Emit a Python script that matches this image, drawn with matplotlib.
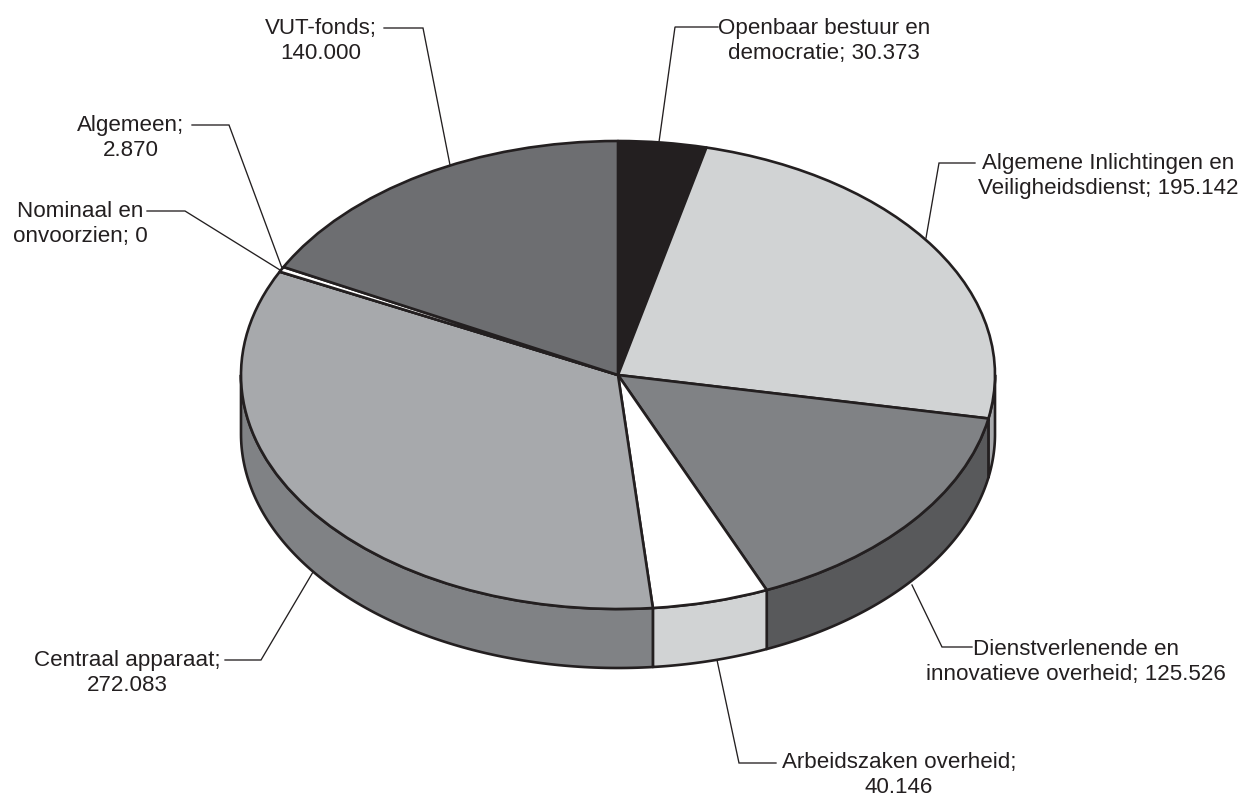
import numpy as np
import matplotlib
matplotlib.use('Agg')
import matplotlib.pyplot as plt

plt.rcParams['font.family'] = ['Liberation Sans', 'DejaVu Sans']

categories = ['Openbaar bestuur en democratie', 'Algemene Inlichtingen en Veiligheidsdienst',
              'Dienstverlenende en innovatieve overheid', 'Arbeidszaken overheid',
              'Centraal apparaat', 'Nominaal en onvoorzien', 'Algemeen', 'VUT-fonds']
values = [30373, 195142, 125526, 40146, 272083, 0, 2870, 140000]
top_colors = ['#231f20', '#d1d3d4', '#808285', '#ffffff', '#a7a9ac', '#ffffff', '#ffffff', '#6d6e71']
side_colors = ['#231f20', '#a7a9ac', '#58595b', '#d1d3d4', '#808285', '#ffffff', '#ffffff', '#6d6e71']

W, H = 1243, 796
cx, cy = 618, 375   # pie centre in pixels
rx, ry = 377, 234   # ellipse radii in pixels
depth = 59 / ry
ink = '#231f20'

fig = plt.figure(figsize=(W / 100, H / 100), dpi=100, facecolor='white')

# pie axes: unit circle stretched to the ellipse
ax = fig.add_axes([0, 0, 1, 1])
ax.pie(values, colors=top_colors, startangle=90, counterclock=False, radius=1,
       wedgeprops=dict(edgecolor=ink, linewidth=1.9, joinstyle='round'))
ax.set_aspect('auto')
ax.set_xlim(-cx / rx, (W - cx) / rx)
ax.set_ylim((cy - H) / ry, cy / ry)

# side wall of every slice that reaches the front half
edges = np.cumsum([0] + values) / sum(values) * 360
for i in range(len(values)):
    t0, t1 = max(edges[i], 90), min(edges[i + 1], 270)
    if t1 <= t0:
        continue
    t = np.radians(np.linspace(t0, t1, 120))
    x = np.sin(t)
    y = np.cos(t)
    ax.fill(np.r_[x, x[::-1]], np.r_[y, y[::-1] - depth], facecolor=side_colors[i],
            edgecolor=ink, linewidth=1.9, joinstyle='round', zorder=0.5)

# overlay in pixel coordinates for the labels and leaders
ov = fig.add_axes([0, 0, 1, 1])
ov.set_xlim(0, W)
ov.set_ylim(H, 0)
ov.axis('off')

leaders = [
    ([384, 423, 450], [28, 28, 165]),
    ([192, 229, 282], [125, 125, 268]),
    ([147, 185, 280], [211, 211, 270]),
    ([718, 675, 659], [27, 27, 142]),
    ([975, 939, 926], [163, 163, 238]),
    ([972, 942, 912], [647, 647, 585]),
    ([776, 739, 717], [763, 763, 660]),
    ([225, 261, 313], [660, 660, 572]),
]
for xs, ys in leaders:
    ov.plot(xs, ys, color=ink, lw=0.95, solid_joinstyle='miter')

labels = [
    ('VUT-fonds;\n140.000', 321, 41),
    ('Algemeen;\n2.870', 131, 138),
    ('Nominaal en\nonvoorzien; 0', 80, 224),
    ('Openbaar bestuur en\ndemocratie; 30.373', 824, 41),
    ('Algemene Inlichtingen en\nVeiligheidsdienst; 195.142', 1108, 176),
    ('Dienstverlenende en\ninnovatieve overheid; 125.526', 1076, 662),
    ('Arbeidszaken overheid;\n40.146', 899, 775),
    ('Centraal apparaat;\n272.083', 127, 673),
]
for txt, x, y in labels:
    ov.text(x, y, txt, ha='center', va='center', fontsize=16.1, color=ink, linespacing=1.24)

fig.savefig('out.png', dpi=100)
